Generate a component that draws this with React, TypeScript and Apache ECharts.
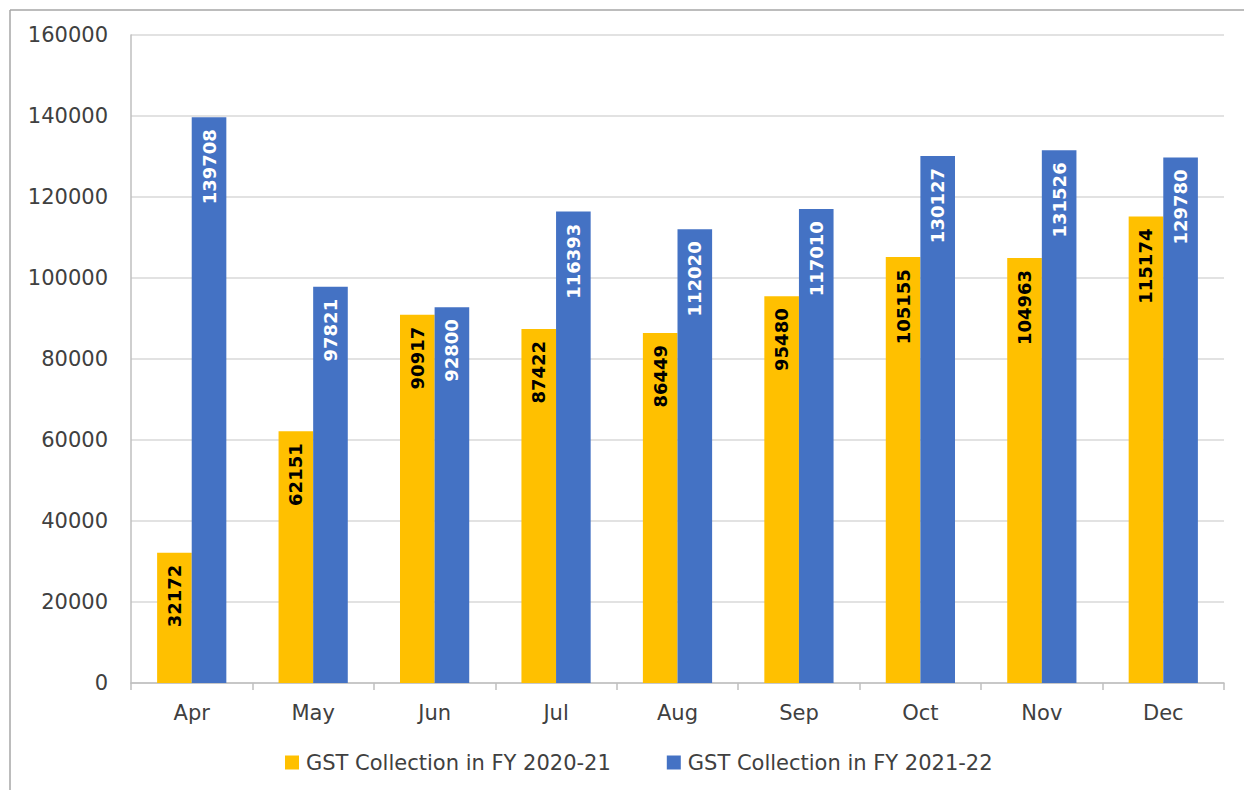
import React, { useEffect, useRef } from "react";
import * as echarts from "echarts";

const months = ["Apr", "May", "Jun", "Jul", "Aug", "Sep", "Oct", "Nov", "Dec"];
const fy2021 = [32172, 62151, 90917, 87422, 86449, 95480, 105155, 104963, 115174];
const fy2122 = [139708, 97821, 92800, 116393, 112020, 117010, 130127, 131526, 129780];
const seriesNames = ["GST Collection in FY 2020-21", "GST Collection in FY 2021-22"];

const FONT = "'DejaVu Sans', sans-serif";

export default function App() {
  const ref = useRef<HTMLDivElement>(null);
  useEffect(() => {
    if (!ref.current) return;
    const chart = echarts.init(ref.current, undefined, { renderer: "svg" });
    const labelCommon = {
      show: true,
      position: "insideTop" as const,
      rotate: 90,
      align: "right" as const,
      verticalAlign: "middle" as const,
      distance: 12,
      fontFamily: FONT,
      fontWeight: "bold" as const,
      fontSize: 18,
    };
    chart.setOption({
      animation: false,
      backgroundColor: "#ffffff",
      textStyle: { fontFamily: FONT },
      grid: { left: 131, right: 20, top: 35, bottom: 107, containLabel: false },
      legend: {
        top: 747,
        left: 280,
        itemWidth: 14,
        itemHeight: 14,
        itemGap: 56,
        icon: "rect",
        textStyle: { fontSize: 21, color: "#404040", fontFamily: FONT, padding: [0, 0, 0, 2] },
        data: seriesNames,
      },
      xAxis: {
        type: "category",
        data: months,
        axisLine: { lineStyle: { color: "#bfbfbf", width: 1.5 } },
        axisTick: { show: true, length: 7, lineStyle: { color: "#bfbfbf", width: 1.5 } },
        axisLabel: { fontSize: 21, color: "#404040", margin: 19, fontFamily: FONT },
      },
      yAxis: {
        type: "value",
        min: 0,
        max: 160000,
        interval: 20000,
        axisLine: { show: true, lineStyle: { color: "#bfbfbf", width: 1.5 } },
        axisTick: { show: false },
        axisLabel: {
          fontSize: 21,
          color: "#404040",
          margin: 23,
          fontFamily: FONT,
          formatter: (v: number) => String(v),
        },
        splitLine: { lineStyle: { color: "#d9d9d9", width: 1.5 } },
      },
      series: [
        {
          name: seriesNames[0],
          type: "bar",
          data: fy2021,
          barGap: "0%",
          barCategoryGap: "43%",
          itemStyle: { color: "#FFC000" },
          label: { ...labelCommon, color: "#000000" },
        },
        {
          name: seriesNames[1],
          type: "bar",
          data: fy2122,
          barGap: "0%",
          barCategoryGap: "43%",
          itemStyle: { color: "#4472C4" },
          label: { ...labelCommon, color: "#ffffff" },
        },
      ],
      graphic: [
        { type: "line", shape: { x1: 10, y1: 10, x2: 1244, y2: 10 }, style: { stroke: "#a6a6a6", lineWidth: 1.5 } },
        { type: "line", shape: { x1: 10, y1: 10, x2: 10, y2: 790 }, style: { stroke: "#a6a6a6", lineWidth: 1.5 } },
      ],
    });
    return () => chart.dispose();
  }, []);
  return (
    <div
      ref={ref}
      style={{ position: "absolute", left: 0, top: 0, width: 1244, height: 790 }}
    />
  );
}
